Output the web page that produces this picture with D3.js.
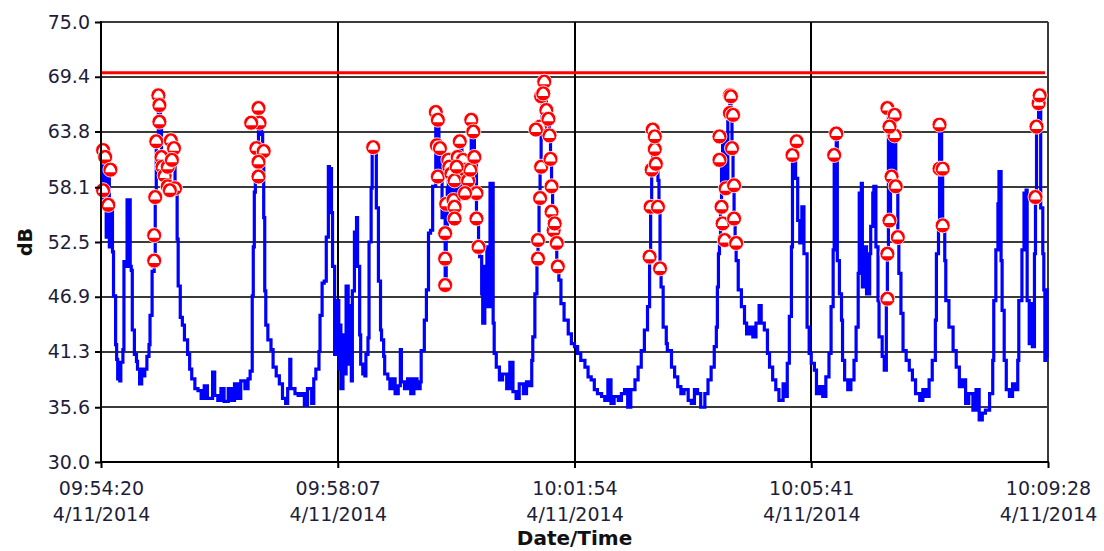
<!DOCTYPE html>
<html>
<head>
<meta charset="utf-8">
<script src="https://cdn.jsdelivr.net/npm/d3@7"></script>
<style>
  html, body { margin: 0; padding: 0; background: #ffffff; }
  svg { display: block; font-family: "DejaVu Sans", Verdana, sans-serif; }
</style>
</head>
<body>
<svg id="chart" width="1104" height="551"></svg>
<script>
// ---------- DATA ----------
const startTime = "2014-04-11T09:54:20";
const endOffsetSeconds = 908;
const xTickOffsets = [0, 227, 454, 681, 908];
const yTickValues = [30.0, 35.6, 41.3, 46.9, 52.5, 58.1, 63.8, 69.4, 75.0];
const yTickLabels = ["30.0", "35.6", "41.3", "46.9", "52.5", "58.1", "63.8", "69.4", "75.0"];
const limitDb = 69.8;
const xAxisTitle = "Date/Time";
const yAxisTitle = "dB";

// [seconds after start, dB]
const levelReadings = [
[0,62],[2,57],[3,60],[5,53],[7,59.5],[8,52],[10,56],[11,51.5],[12,47],[14,42],[15,40.5],[16,38.5],[17,40],[18,38.3],[19,40.2],
[21,41.5],[22,50.5],[23,50],[25,56.8],[27,56.8],[28,50],[29,49.6],[30,43.5],[32,41],[34,40.3],[35,39.5],[37,38],[39,39.5],[40,38.8],
[42,39.5],[44,40.8],[46,42],[47,45],[49,49.5],[51,50.6],[52,57.1],[53,62.8],[55,67.5],[56,66.5],[57,64.8],[58,61.2],[59,60.2],
[61,59.3],[63,61],[64,58.2],[66,62.9],[67,60.9],[69,62.1],[71,58],[72,57.7],[73,52.8],[74,48],[76,44.8],[78,44],[80,42.5],[83,41],
[85,39.5],[87,38.5],[90,37.5],[93,37.3],[96,36.5],[99,37.8],[102,36.5],[107,39.2],[109,36.8],[112,36.3],[115,37.5],[118,36.2],
[122,37.5],[125,36.3],[128,38],[131,36.5],[134,38.3],[138,37.5],[141,38.5],[143,39.3],[145,47],[146,52],[147,57.6],[148,59.2],
[150,62.1],[151,66.2],[152,64.7],[154,63.5],[155,61.8],[156,55],[157,47.5],[158,44],[160,42.5],[163,41.5],[165,39.7],[168,38.8],
[171,38],[174,36.5],[177,36],[179,37.5],[181,40.5],[182,37.5],[186,37],[189,36.8],[192,37],[195,35.8],[198,37.5],[202,36],
[204,38.5],[206,39.5],[209,41.3],[210,45],[212,48.3],[214,48.5],[216,53],[218,60.2],[219,60],[221,55.5],[222,50],[224,41],
[225,44],[226,46.5],[228,39.5],[229,44],[230,37.5],[232,43],[233,39],[235,48],[237,40],[238,46],[240,38.3],[241,47.5],[243,53.5],
[245,55],[246,50],[248,43],[249,40],[251,39],[253,38.8],[254,41],[256,42.7],[257,52.5],[259,58],[260,62],[261,62.2],[263,62.2],
[264,56],[266,48.5],[268,43.5],[269,42.5],[271,40.8],[272,39],[275,38.5],[277,37.5],[280,38.5],[282,37],[285,37.8],[287,41.5],
[288,38.2],[291,37.5],[294,38.5],[297,37],[300,38.5],[303,37.5],
[306,38.2],[307,41.4],[310,44.5],[312,47.6],[314,53.4],[316,53.7],[318,58.2],[321,65.8],[322,63],[323,65],[324,60],[326,62],
[327,55],[328,56.5],[330,48.1],[331,53.5],[332,58],[333,60.9],[335,56.5],[336,59.5],[338,54.9],[339,58.8],[341,56],[342,61.5],
[344,62.8],[346,58],[347,61],[349,57.5],[350,59.9],[352,58.8],[354,60],[355,65],[357,63.8],[358,61.2],[360,55],[362,52],[363,51],
[365,47.2],[366,44.2],[368,50],[370,52],[371,45.9],[373,58.5],[375,58.5],[376,44.2],[377,41.1],[379,39.7],[382,38.4],[385,39],
[389,37.5],[392,40.2],[395,37.2],[398,36.5],[401,38],[405,37],[408,38.2],[411,37.8],[413,40.4],[414,42.8],[416,47.2],[418,50.7],
[419,52.7],[420,57],[421,60.2],[422,64.3],[423,67.4],[424,67.7],[425,68.9],[427,66.3],[428,65.1],[430,63.4],[431,61],[432,58.2],
[433,55.6],[434,53.7],[436,52.4],[437,50],[439,48.6],[441,46.2],[444,44.5],[448,43.1],[451,42.1],[454,41.8],[457,41.1],[460,40.4],
[464,39.7],[467,38.7],[470,38.4],[473,37.4],[476,37],[480,36.7],[483,36.3],[486,38.4],[489,36],[492,36.7],[496,36.3],[499,37],
[502,37.4],[505,35.6],[508,37.4],[512,38.4],[515,39.7],[518,41.4],[521,43.5],[524,45.9],[526,51],[527,56.1],[528,59.9],[529,64],
[531,62],[532,60.5],[534,58.8],[535,56.1],[536,50],[537,47.9],[539,43.8],[542,42.1],[543,41.4],[547,39.7],[550,38.7],[553,37.7],
[556,37],[559,37.4],[563,36.3],[566,36],[569,37.4],[572,37],[575,35.6],[579,37],[582,38.4],[585,39.7],[588,41.8],[590,43.8],
[591,47.9],[592,51.3],[593,53],[594,56.1],[595,60.9],[596,63.1],[598,58],[601,65.7],[603,67.4],
[604,65.5],[605,62],[606,58.3],[607,54.9],[608,52.4],[609,50.6],[611,47.6],[614,45.9],[617,44.2],[619,43.1],[622,43.8],[625,42.8],
[628,44.2],[631,46],[633,44.2],[636,43.5],[639,41.1],[641,39.7],[644,38.4],[647,37.4],[650,36.3],[654,38],[657,36.7],[658,40.1],
[660,44.9],[662,52],[663,61.4],[665,62.8],[666,59],[668,54.7],[670,52.4],[672,56.1],[674,51.3],[677,43.8],[679,41.1],[681,40.1],
[684,39.4],[686,37],[689,37.7],[692,36.7],[695,38.7],[698,41.1],[700,45.9],[702,51.7],[703,61.4],[705,63.6],[706,50.6],[708,47.2],
[710,44.5],[711,40.4],[713,38.4],[716,37.4],[719,38.4],[722,40.4],[724,43.8],[726,49.3],[727,57.5],[729,58.5],[730,47.9],[732,52],
[734,47.2],[737,51.3],[738,54.1],[740,57.5],[741,58.2],[743,52],[745,46.5],[746,42.8],[749,40.8],[751,39.4],[753,46.7],[754,51.3],
[755,66.2],[756,54.7],[757,64.3],[758,59.2],[760,65.5],[761,63.4],[762,58.2],[764,53],[765,49.3],[767,45.2],[769,41.4],[772,40.4],
[775,39.4],[778,38.4],[781,37],[785,36.3],[788,37.4],[791,36.7],[794,38.4],[797,40.4],[800,44.5],[801,51.3],[803,54.4],[804,64.5],
[806,60],[807,54.4],[809,50.6],[810,46.5],[813,43.8],[817,41.4],[820,39.7],[823,37.7],[826,38.4],[829,36],[832,37],[836,35.3],
[839,37.4],[842,34.3],[845,35],[848,35.3],[852,37],[855,40.4],[856,46.5],[858,51.7],[860,56.4],[861,59.7],[863,50.6],[864,45.5],
[866,40.4],[868,37.4],[871,36.7],[874,38],[877,37.4],[879,40.4],[880,46.5],[883,51.7],[885,57.5],[887,57.8],[888,46.5],[890,42.1],
[892,46.2],[893,41.8],[895,51.3],[896,57.1],[897,64.3],[899,67.5],[900,66.7],[901,56],[903,51.3],[904,47.6],[905,40.4],[906,47.6],
[907,40.6]
];

// flagged readings drawn as markers [seconds after start, dB]
const flaggedReadings = [
[2,61.9],[4,61.2],[9,59.9],[2,57.8],[7,56.3],
[51,50.6],[51,53.2],[52,57.1],[53,62.8],[55,67.5],[56,66.5],[56,64.8],[58,61.2],[59,60.2],[61,59.3],[64,58.2],[64,60.2],
[67,62.9],[70,62.1],[68,60.9],[71,58],[66,57.8],
[151,66.2],[152,64.7],[144,64.7],[149,62.1],[156,61.8],[151,60.7],[151,59.2],
[261,62.2],
[321,65.8],[323,65.0],[322,62.4],[325,62.1],[323,59.2],[330,53.4],[330,50.8],[330,48.1],[331,56.4],[333,60.9],[334,60.2],
[336,59.5],[339,58.8],[338,56.8],[339,56.1],[339,54.9],[342,61.2],[344,62.8],[347,60.9],[349,59.9],[352,58.8],[354,59.9],
[355,65.0],[357,63.8],[358,61.2],[360,57.5],[360,54.9],[362,52.0],[349,57.5],[341,60.2],
[419,52.7],[419,50.8],[421,57.0],[422,60.2],[421,64.3],[422,67.4],[425,68.9],[424,67.7],[427,66.0],[429,65.1],[430,63.4],
[431,61.0],[432,58.2],[432,55.6],[434,53.7],[435,54.4],[437,52.4],[438,50.0],[417,64.0],
[526,51.0],[527,56.1],[528,59.9],[529,64.0],[531,62.0],[532,60.5],[534,56.1],[536,49.8],[531,63.3],
[593,63.3],[593,60.9],[595,56.1],[596,54.4],[598,52.7],[599,58.0],[603,67.5],[603,65.7],[604,67.4],[606,65.5],[605,62.1],
[607,58.3],[607,54.9],[609,52.4],
[663,61.4],[667,62.8],
[703,61.4],[705,63.6],
[754,66.2],[761,65.5],[761,63.4],[756,64.3],[758,59.2],[762,58.2],[756,54.7],[764,53.0],[754,51.3],[754,46.7],
[804,64.5],[804,60.0],[807,60.0],[807,54.2],
[896,57.1],[897,64.3],[899,66.7],[900,67.5]
];

// ---------- CHART ----------
const svg = d3.select("#chart");
const margin = { left: 101, right: 56, top: 22, bottom: 89 };
const W = 1104, H = 551;
const x0 = margin.left, x1 = W - margin.right, y0 = margin.top, y1 = H - margin.bottom;

const t0 = new Date(startTime);
const toDate = s => new Date(t0.getTime() + s * 1000);

const x = d3.scaleTime().domain([t0, toDate(endOffsetSeconds)]).range([x0, x1]);
const y = d3.scaleLinear().domain([30, 75]).range([y1, y0]);

const textColor = "#1e1e3a";

// horizontal gridlines
svg.append("g").selectAll("line").data(yTickValues).join("line")
  .attr("x1", x0).attr("x2", x1)
  .attr("y1", d => Math.round(y(d))).attr("y2", d => Math.round(y(d)))
  .attr("stroke", "#3a3a3a").attr("stroke-width", 2);

// vertical gridlines
svg.append("g").selectAll("line").data(xTickOffsets).join("line")
  .attr("x1", d => Math.round(x(toDate(d)))).attr("x2", d => Math.round(x(toDate(d))))
  .attr("y1", y0).attr("y2", y1)
  .attr("stroke", d => (d === endOffsetSeconds ? "#3a3a3a" : "#000")).attr("stroke-width", 2);

// limit line
svg.append("line")
  .attr("x1", x0).attr("x2", x1 - 3)
  .attr("y1", y(limitDb)).attr("y2", y(limitDb))
  .attr("stroke", "#ff0000").attr("stroke-width", 3);

// level line (stepped like the logger's 1-second samples)
const line = d3.line()
  .curve(d3.curveStepAfter)
  .x(d => x(toDate(d[0])))
  .y(d => y(d[1]));

svg.append("path")
  .datum(levelReadings)
  .attr("d", line)
  .attr("fill", "none")
  .attr("stroke", "#0000ff")
  .attr("stroke-width", 3.2)
  .attr("stroke-linejoin", "miter");

// markers
const markers = svg.append("g").selectAll("g").data(flaggedReadings).join("g")
  .attr("transform", d => `translate(${x(toDate(d[0]))},${y(d[1])})`);
markers.append("circle").attr("r", 7.5).attr("fill", "#ff0000")
  .attr("stroke", "#ffffff").attr("stroke-width", 0.8);
markers.append("path")
  .attr("d", "M-5,2.5 C-5,-1.5 -2.2,-4.8 0,-4.8 C2.2,-4.8 5,-1.5 5,2.5 Z")
  .attr("fill", "#ffffff");

// axes lines
svg.append("line").attr("x1", x0).attr("x2", x0).attr("y1", y0 - 1).attr("y2", y1 + 1)
  .attr("stroke", "#000").attr("stroke-width", 2);
svg.append("line").attr("x1", x0 - 1).attr("x2", x1 + 1).attr("y1", y1).attr("y2", y1)
  .attr("stroke", "#000").attr("stroke-width", 2);

// y axis ticks + labels
const yAxis = d3.axisLeft(y).tickValues(yTickValues)
  .tickFormat((d, i) => yTickLabels[i]).tickSize(6).tickPadding(5);
const gy = svg.append("g").attr("transform", `translate(${x0},0)`).call(yAxis);
gy.select(".domain").remove();
gy.selectAll(".tick line").attr("stroke", "#000").attr("stroke-width", 2);
gy.selectAll(".tick text")
  .attr("font-size", 19).attr("fill", textColor)
  .attr("font-family", "'DejaVu Sans', Verdana, sans-serif");

// x axis ticks + labels
const fmtTime = d3.timeFormat("%H:%M:%S");
const fmtDate = d => `${d.getMonth() + 1}/${d.getDate()}/${d.getFullYear()}`;
const xAxis = d3.axisBottom(x).tickValues(xTickOffsets.map(toDate))
  .tickSize(6).tickFormat("");
const gx = svg.append("g").attr("transform", `translate(0,${y1})`).call(xAxis);
gx.select(".domain").remove();
gx.selectAll(".tick line").attr("stroke", "#000").attr("stroke-width", 2);
gx.selectAll(".tick").each(function (d) {
  const g = d3.select(this);
  const t = g.append("text").attr("fill", textColor).attr("font-size", 19)
    .attr("text-anchor", "middle")
    .attr("font-family", "'DejaVu Sans', Verdana, sans-serif");
  t.append("tspan").attr("x", 0).attr("y", 33).text(fmtTime(d));
  t.append("tspan").attr("x", 0).attr("y", 59).text(fmtDate(d));
});

// axis titles
svg.append("text")
  .attr("x", (x0 + x1) / 2).attr("y", 545)
  .attr("text-anchor", "middle")
  .attr("font-size", 20).attr("font-weight", "bold").attr("fill", "#111")
  .text(xAxisTitle);

svg.append("text")
  .attr("transform", `translate(32,${(y0 + y1) / 2}) rotate(-90)`)
  .attr("text-anchor", "middle")
  .attr("font-size", 19).attr("font-weight", "bold").attr("fill", "#111")
  .text(yAxisTitle);
</script>
</body>
</html>
